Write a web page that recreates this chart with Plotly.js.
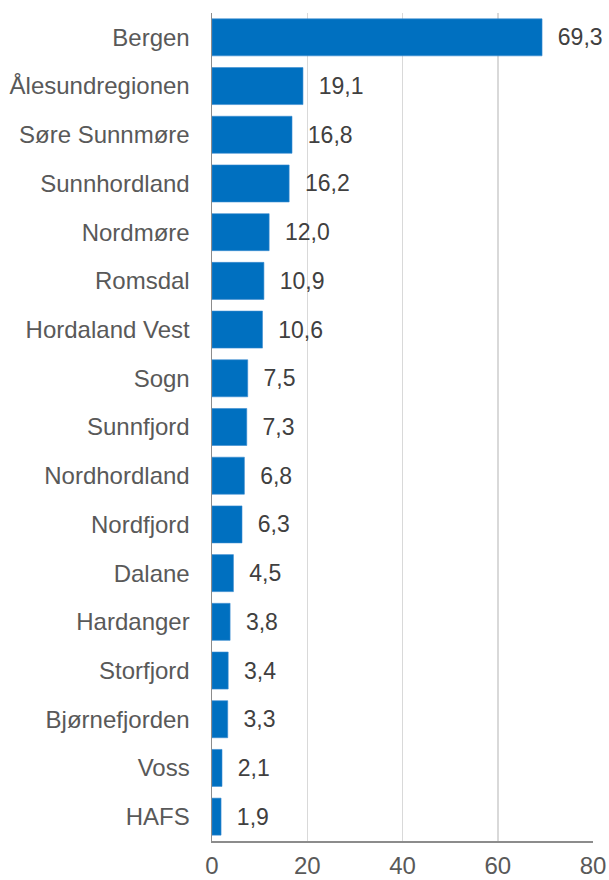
<!DOCTYPE html>
<html>
<head>
<meta charset="utf-8">
<script src="https://cdn.plot.ly/plotly-3.0.1.min.js"></script>
<style>html,body{margin:0;padding:0;background:#fff;}#chart{width:609px;height:880px;}</style>
</head>
<body>
<div id="chart"></div>
<script>
const regions = ["Bergen","Ålesundregionen","Søre Sunnmøre","Sunnhordland","Nordmøre","Romsdal","Hordaland Vest","Sogn","Sunnfjord","Nordhordland","Nordfjord","Dalane","Hardanger","Storfjord","Bjørnefjorden","Voss","HAFS"];
const values = [69.3,19.1,16.8,16.2,12.0,10.9,10.6,7.5,7.3,6.8,6.3,4.5,3.8,3.4,3.3,2.1,1.9];
const xTicks = [0,20,40,60,80];

const trace = {
  type: 'bar',
  orientation: 'h',
  y: regions,
  x: values,
  marker: {color: '#0070C0', line: {color: '#3A8BD0', width: 0.6}},
  width: 0.76,
  texttemplate: '  %{x:.1f}',
  textposition: 'outside',
  cliponaxis: false,
  textfont: {family: 'Liberation Sans, Arial, sans-serif', size: 23, color: '#404040'},
  hoverinfo: 'none'
};

const layout = {
  width: 609, height: 880,
  margin: {l: 212, r: 16, t: 13, b: 39},
  separators: ', ',
  paper_bgcolor: '#fff', plot_bgcolor: '#fff',
  showlegend: false,
  font: {family: 'Liberation Sans, Arial, sans-serif', size: 24, color: '#595959'},
  xaxis: {
    range: [0, 80],
    tickvals: xTicks,
    ticktext: xTicks.map(String),
    showgrid: true, gridcolor: '#D9D9D9', gridwidth: 1.5,
    zeroline: false,
    showline: true, linecolor: '#8C8C8C', linewidth: 1.5,
    ticks: '', ticklabelstandoff: 3,
    tickfont: {size: 24, color: '#595959'},
    fixedrange: true
  },
  yaxis: {
    autorange: 'reversed',
    showgrid: false, zeroline: false,
    showline: true, linecolor: '#8C8C8C', linewidth: 1.5,
    ticks: '', ticklabelstandoff: 16,
    tickfont: {size: 24, color: '#595959'},
    fixedrange: true
  },
  bargap: 0.24
};

Plotly.newPlot('chart', [trace], layout, {staticPlot: true, displayModeBar: false});
</script>
</body>
</html>
